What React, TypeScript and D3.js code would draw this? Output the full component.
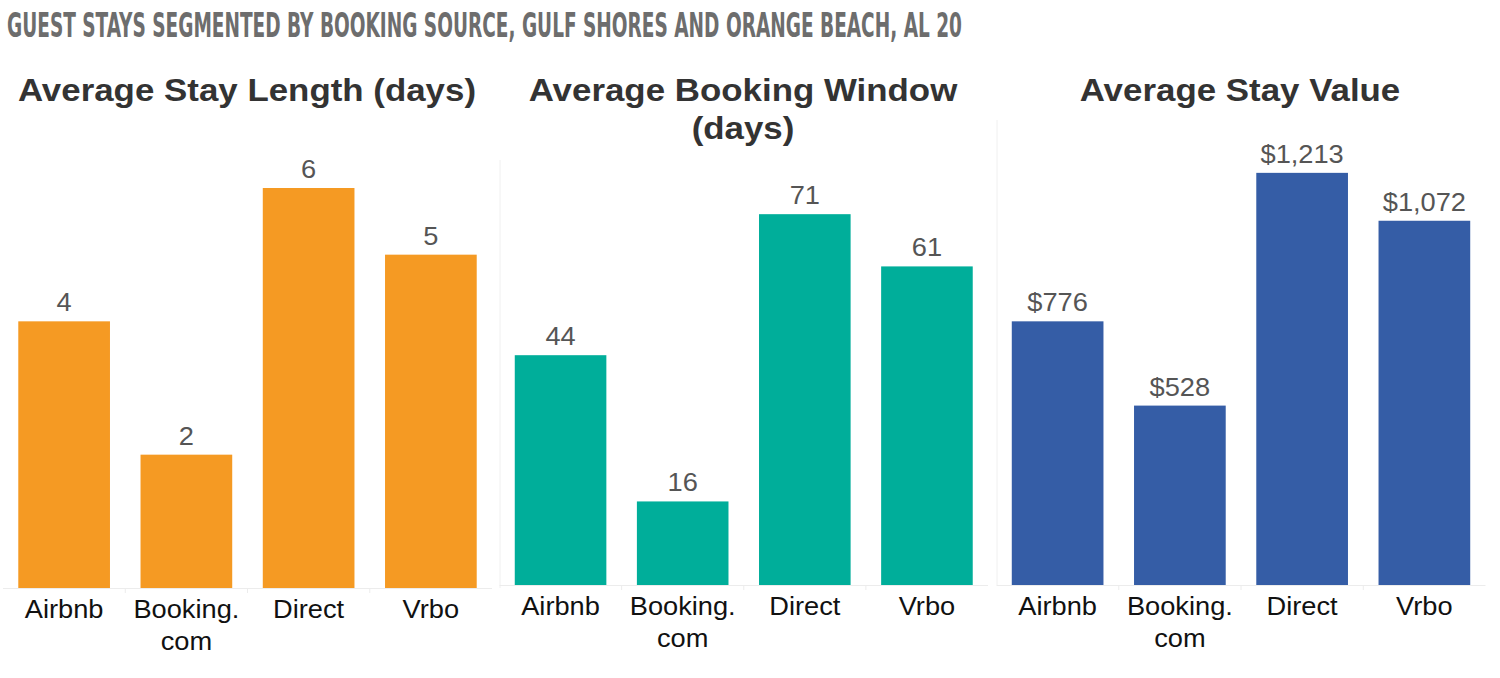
import * as d3 from "d3";

const title = "GUEST STAYS SEGMENTED BY BOOKING SOURCE, GULF SHORES AND ORANGE BEACH, AL 20";
const categories = ["Airbnb", "Booking.com", "Direct", "Vrbo"];
const categoryLines = [["Airbnb"], ["Booking.", "com"], ["Direct"], ["Vrbo"]];

const stayLength = [4, 2, 6, 5];
const bookingWindow = [44, 16, 71, 61];
const stayValue = [776, 528, 1213, 1072];

const panelTitles = [["Average Stay Length (days)"], ["Average Booking Window", "(days)"], ["Average Stay Value"]];
const panelColors = ["#F59A23", "#00AE9A", "#355DA6"];

const W = 1500;
const H = 678;
const SX = 1.09; // reference text is slightly wider than tall

const fmtDays = d3.format(".0f");
const fmtMoney = (v: number) => "$" + d3.format(",.0f")(v);

const panels = [
  { values: stayLength, x0: 3, x1: 492, base: 588, yMax: 6.9, fmt: fmtDays, titleX: 247 },
  { values: bookingWindow, x0: 499.5, x1: 988, base: 585, yMax: 87.5, fmt: fmtDays, titleX: 743 },
  { values: stayValue, x0: 996.5, x1: 1485.5, base: 585, yMax: 1345, fmt: fmtMoney, titleX: 1240 },
];

const PLOT_TOP = 128;

function SText(props: {
  x: number;
  y: number;
  size: number;
  fill: string;
  weight?: string;
  children: string;
}) {
  return (
    <text
      transform={`translate(${props.x},${props.y}) scale(${SX},1)`}
      textAnchor="middle"
      fontFamily="'Liberation Sans', Arial, sans-serif"
      fontSize={props.size}
      fontWeight={props.weight ?? "normal"}
      fill={props.fill}
    >
      {props.children}
    </text>
  );
}

export default function App() {
  return (
    <div style={{ position: "absolute", left: 0, top: 0 }}>
      <svg width={W} height={H} style={{ display: "block", background: "#fff" }}>
        <text
          x={7}
          y={37}
          fontFamily="'Liberation Sans Narrow', 'DejaVu Sans Condensed', sans-serif"
          fontWeight="bold"
          fontSize={34}
          fill="#6d6d6d"
          textLength={955}
          lengthAdjust="spacingAndGlyphs"
        >
          {title}
        </text>

        {/* faint panel separators */}
        <line x1={500} x2={500} y1={160} y2={588} stroke="#f0f0f0" strokeWidth={1} />
        <line x1={997} x2={997} y1={120} y2={585} stroke="#f0f0f0" strokeWidth={1} />

        {panels.map((p, pi) => {
          const x = d3
            .scaleBand<string>()
            .domain(categories)
            .range([p.x0, p.x1])
            .paddingInner(0.25)
            .paddingOuter(0.125);
          const y = d3.scaleLinear().domain([0, p.yMax]).range([p.base, PLOT_TOP]);
          const step = x.step();
          return (
            <g key={pi}>
              {panelTitles[pi].map((t, li) => (
                <SText key={li} x={p.titleX} y={101 + li * 38} size={32} weight="bold" fill="#333333">
                  {t}
                </SText>
              ))}

              <line x1={p.x0} x2={p.x1} y1={p.base + 0.5} y2={p.base + 0.5} stroke="#ececec" />
              {categories.slice(1).map((c) => {
                const tx = x(c)! - (step - x.bandwidth()) / 2;
                return (
                  <line key={c} x1={tx} x2={tx} y1={p.base} y2={p.base + 5} stroke="#ececec" />
                );
              })}

              {categories.map((c, i) => {
                const v = p.values[i];
                const bx = x(c)!;
                return (
                  <g key={c}>
                    <rect
                      x={bx}
                      y={y(v)}
                      width={x.bandwidth()}
                      height={y(0) - y(v)}
                      fill={panelColors[pi]}
                    />
                    <SText x={bx + x.bandwidth() / 2} y={y(v) - 10} size={25} fill="#555555">
                      {p.fmt(v)}
                    </SText>
                    {categoryLines[i].map((line, li) => (
                      <SText
                        key={li}
                        x={bx + x.bandwidth() / 2}
                        y={p.base + 30 + li * 32}
                        size={25}
                        fill="#111111"
                      >
                        {line}
                      </SText>
                    ))}
                  </g>
                );
              })}
            </g>
          );
        })}
      </svg>
    </div>
  );
}
